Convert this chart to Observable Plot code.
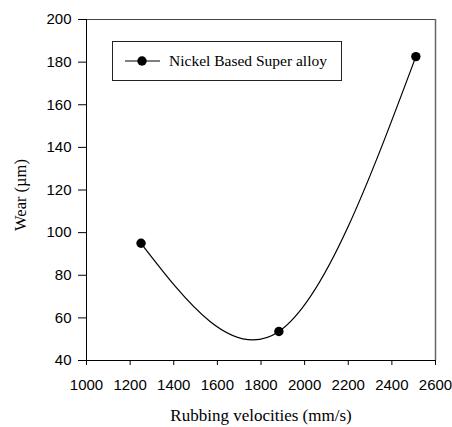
<!DOCTYPE html>
<html>
<head>
<meta charset="utf-8">
<script src="https://cdn.jsdelivr.net/npm/d3@7"></script>
<script src="https://cdn.jsdelivr.net/npm/@observablehq/plot@0.6"></script>
<style>
  html, body { margin: 0; padding: 0; background: #fff; }
  #wrap { position: relative; width: 452px; height: 427px; }
  #legend { position: absolute; left: 112px; top: 41px; width: 230px; height: 40px;
            border: 1px solid #222; box-sizing: border-box; background: #fff; }
  #legend svg { position: absolute; left: 0; top: 0; }
  #legend span { position: absolute; left: 56px; top: 10px; font-family: "Liberation Serif", "Times New Roman", serif;
                 font-size: 15.5px; line-height: 18px; white-space: nowrap; color: #000; }
</style>
</head>
<body>
<div id="wrap"></div>
<script>
const velocities = [1250, 1882, 2510];
const wear = [95.0, 53.6, 182.6];
const xTicks = [1000, 1200, 1400, 1600, 1800, 2000, 2200, 2400, 2600];
const yTicks = [40, 60, 80, 100, 120, 140, 160, 180, 200];
const seriesName = "Nickel Based Super alloy";
const xLabel = "Rubbing velocities (mm/s)";
const yLabel = "Wear (µm)";

const data = velocities.map((v, i) => ({ v, w: wear[i] }));
const serif = "'Liberation Serif', 'Times New Roman', serif";

const chart = Plot.plot({
  width: 452,
  height: 427,
  marginLeft: 86,
  marginRight: 17,
  marginTop: 19,
  marginBottom: 67,
  x: { domain: [1000, 2600] },
  y: { domain: [40, 200] },
  style: { fontFamily: "'Liberation Sans', Arial, sans-serif", fontSize: "15px", color: "#000", background: "#fff" },
  marks: [
    Plot.ruleY([200], { stroke: "#444", strokeWidth: 1.2 }),
    Plot.ruleX([2600], { stroke: "#666", strokeWidth: 1.5 }),
    Plot.ruleX([1000], { stroke: "#000", strokeWidth: 1 }),
    Plot.ruleY([40], { stroke: "#000", strokeWidth: 1 }),
    Plot.axisX({ ticks: xTicks, tickFormat: d => String(d), tickSize: 5, tickPadding: 14, label: null, fontSize: 15 }),
    Plot.axisY({ ticks: yTicks, tickFormat: d => String(d), tickSize: 8, tickPadding: 7, label: null, fontSize: 15 }),
    Plot.line(data, { x: "v", y: "w", curve: "natural", stroke: "#000", strokeWidth: 1.2 }),
    Plot.dot(data, { x: "v", y: "w", r: 4.7, fill: "#000", stroke: "none" }),
    Plot.text([xLabel], { frameAnchor: "bottom", dy: 55, textAnchor: "middle", lineAnchor: "middle", fontFamily: serif, fontSize: 17 }),
    Plot.text([yLabel], { frameAnchor: "left", dx: -66, dy: 5, rotate: -90, textAnchor: "middle", lineAnchor: "middle", fontFamily: serif, fontSize: 16.5 })
  ]
});

const wrap = document.getElementById("wrap");
wrap.appendChild(chart);

const legend = document.createElement("div");
legend.id = "legend";
legend.innerHTML = `<svg width="60" height="38"><line x1="12" x2="47" y1="19" y2="19" stroke="#000" stroke-width="1.2"/><circle cx="29" cy="19" r="4.7" fill="#000"/></svg><span>${seriesName}</span>`;
wrap.appendChild(legend);
</script>
</body>
</html>
